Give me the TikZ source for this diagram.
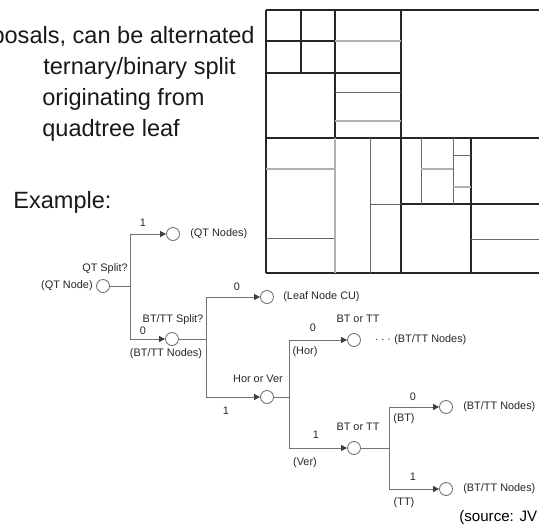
\documentclass[tikz,border=0pt]{standalone}
\usepackage{fontspec}
\setmainfont{Liberation Sans}
\usetikzlibrary{arrows.meta}

\begin{document}
\begin{tikzpicture}[x=0.02cm, y=-0.02cm,
    every node/.style={inner sep=0pt},
    big/.style={font=\fontsize{13.4}{16}\selectfont, text=black!90},
    lbl/.style={font=\fontsize{6.2}{7.5}\selectfont, text=black!85},
    leaf/.style={circle, draw=black!55, fill=white, line width=0.5pt, minimum size=0.26cm},
    wire/.style={draw=black!55, line width=0.55pt},
    arr/.style={wire, -{Triangle[length=3.4pt, width=3.4pt, color=black!75]}},
    qtline/.style={line width=0.9pt, black!85},
    btline/.style={line width=0.45pt, black!60},
    pale/.style={line width=0.6pt, black!30}
  ]
    \useasboundingbox (0,0) rectangle (539,529);

    % text on the left
    \node[big, anchor=east] (t1) at (255,37) {posals, can be alternated};
    \node[big, anchor=west] (t2) at (43,68) {ternary/binary split};
    \node[big, anchor=west] (t3) at (42,99) {originating from};
    \node[big, anchor=west] (t4) at (42,130) {quadtree leaf};
    \node[big, anchor=west] (ex) at (13,202) {Example:};

    % quadtree partition
    \draw[qtline] (266,10) -- (539,10);
    \draw[qtline] (266,273) -- (539,273);
    \draw[qtline] (266,10) -- (266,273);
    \draw[qtline] (401,10) -- (401,273);
    \draw[qtline] (266,138) -- (539,138);
    \draw[qtline] (335,10) -- (335,138);
    \draw[qtline] (266,73) -- (401,73);
    \draw[qtline] (301,10) -- (301,73);
    \draw[qtline] (266,41) -- (335,41);
    \draw[qtline] (471,138) -- (471,273);
    \draw[qtline] (401,204) -- (539,204);
    % binary / ternary splits
    \draw[pale] (335,41) -- (401,41);
    \draw[btline] (335,92) -- (401,92);
    \draw[pale] (335,121) -- (401,121);
    \draw[pale] (266,169) -- (335,169);
    \draw[btline] (266,238) -- (335,238);
    \draw[pale] (335,138) -- (335,273);
    \draw[btline] (370,138) -- (370,273);
    \draw[btline] (370,204) -- (401,204);
    \draw[btline] (421,138) -- (421,204);
    \draw[btline] (453,138) -- (453,204);
    \draw[pale] (421,169) -- (453,169);
    \draw[btline] (453,155) -- (471,155);
    \draw[pale] (453,187) -- (471,187);
    \draw[btline] (471,239) -- (539,239);

    % split tree
    \node[leaf] (qtroot) at (103,286) {};
    \node[leaf] (qtkids) at (173,234) {};
    \node[leaf] (mtt) at (172,339) {};
    \node[leaf] (cu) at (267,297) {};
    \node[leaf] (dir) at (267,397) {};
    \node[leaf] (hor) at (354,340) {};
    \node[leaf] (ver) at (354,448) {};
    \node[leaf] (bin) at (446,407) {};
    \node[leaf] (ter) at (446,489) {};
    \coordinate (j1) at (130,286);
    \coordinate (j2) at (206,339);
    \coordinate (j3) at (289,397);
    \coordinate (j4) at (389,448);

    \draw[wire] (qtroot) -- (j1);
    \draw[arr] (j1) |- (qtkids);
    \draw[arr] (j1) |- (mtt);
    \draw[wire] (mtt) -- (j2);
    \draw[arr] (j2) |- (cu);
    \draw[arr] (j2) |- (dir);
    \draw[wire] (dir) -- (j3);
    \draw[arr] (j3) |- (hor);
    \draw[arr] (j3) |- (ver);
    \draw[wire] (ver) -- (j4);
    \draw[arr] (j4) |- (bin);
    \draw[arr] (j4) |- (ter);

    % labels
    \node[lbl, anchor=east] (l1) at (93,286) {(QT Node)};
    \node[lbl] (l2) at (105,269) {QT Split?};
    \node[lbl] (l3) at (143,223) {1};
    \node[lbl, anchor=west] (l4) at (190,234) {(QT Nodes)};
    \node[lbl] (l5) at (143,331) {0};
    \node[lbl] (l6) at (173,320) {BT/TT Split?};
    \node[lbl] (l7) at (166,354) {(BT/TT Nodes)};
    \node[lbl] (l8) at (237,287) {0};
    \node[lbl, anchor=west] (l9) at (283,297) {(Leaf Node CU)};
    \node[lbl] (l10) at (258,379) {Hor or Ver};
    \node[lbl] (l11) at (226,411) {1};
    \node[lbl] (l12) at (313,328) {0};
    \node[lbl] (l13) at (305,352) {(Hor)};
    \node[lbl] (l14) at (358,319) {BT or TT};
    \node[lbl] (l15) at (383,340) {$\cdots$};
    \node[lbl, anchor=west] (l16) at (394,340) {(BT/TT Nodes)};
    \node[lbl] (l17) at (316,435) {1};
    \node[lbl] (l18) at (305,463) {(Ver)};
    \node[lbl] (l19) at (358,427) {BT or TT};
    \node[lbl] (l20) at (413,397) {0};
    \node[lbl] (l21) at (404,419) {(BT)};
    \node[lbl, anchor=west] (l22) at (463,407) {(BT/TT Nodes)};
    \node[lbl] (l23) at (413,477) {1};
    \node[lbl] (l24) at (404,503) {(TT)};
    \node[lbl, anchor=west] (l25) at (463,489) {(BT/TT Nodes)};
    \node[font=\fontsize{8.6}{10}\selectfont, anchor=west] (src) at (459,518) {(source: JV};
  \end{tikzpicture}
\end{document}
